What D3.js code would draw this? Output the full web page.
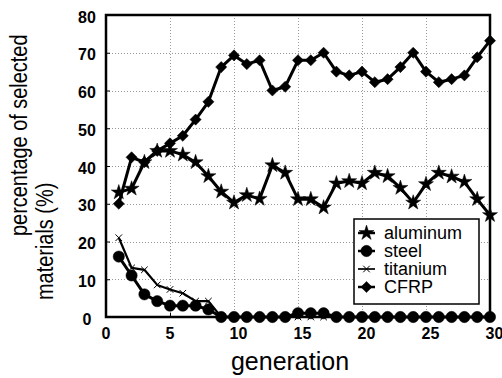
<!DOCTYPE html>
<html>
<head>
    <title>Selected materials per generation</title>
    <script src="https://d3js.org/d3.v7.min.js"></script>
    <style>
        body { margin: 0; background: #fff; }
        .grid line { stroke: #999; stroke-dasharray: 1,2; shape-rendering: crispEdges; }
        .axis text { font-family: "Liberation Sans", Arial, sans-serif; font-size: 16px; font-weight: bold; fill: #000; }
        .axis-title { font-family: "Liberation Sans", Arial, sans-serif; fill: #000; }
        .legend text { font-family: "Liberation Sans", Arial, sans-serif; font-size: 18px; fill: #000; }
    </style>
</head>
<body>
<div class="chart-container"></div>
<script>
    // generation numbers 1..30
    const generations = [1,2,3,4,5,6,7,8,9,10,11,12,13,14,15,16,17,18,19,20,21,22,23,24,25,26,27,28,29,30];

    // percentages
    const aluminum = [33,34,41,44,44,43,41,37.3,33.2,30.3,32.3,31.3,40.2,38.2,31.2,31.2,29,35.4,36,35.4,38.2,37.3,34.2,30.3,35.2,38.2,37.2,35.8,31.2,27];
    const steel = [16,11,6,4.2,3,3,3,2,0,0,0,0,0,0,1,1,1,0,0,0,0,0,0,0,0,0,0,0,0,0];
    const titanium = [21,13,12.5,8.5,7.3,6.3,4.2,4.2,0,0,0,0,0,0,0,0,0,0,0,0,0,0,0,0,0,0,0,0,0,0];
    const cfrp = [30,42.3,41,44,46,48,52.3,57,66.2,69.3,67,68,60,61,68,68,70,65,64,65,62.2,63,66.2,70,65,62.2,63,64,68.8,73.2];

    const seriesNames = ["aluminum", "steel", "titanium", "CFRP"];
    const xTicks = [0,5,10,15,20,25,30];
    const yTicks = [0,10,20,30,40,50,60,70,80];

    const margin = { top: 15, right: 12, bottom: 61, left: 106 };
    const containerWidth = 502;
    const containerHeight = 378;
    const width = containerWidth - margin.left - margin.right;
    const height = containerHeight - margin.top - margin.bottom;

    const root = d3.select(".chart-container")
        .append("svg")
        .attr("width", containerWidth)
        .attr("height", containerHeight);

    const svg = root.append("g")
        .attr("transform", `translate(${margin.left},${margin.top})`);

    const xScale = d3.scaleLinear().domain([0, 30]).range([0, width]);
    const yScale = d3.scaleLinear().domain([0, 80]).range([height, 0]);

    // dotted grid
    const grid = svg.append("g").attr("class", "grid");
    grid.selectAll(".gx").data(xTicks.slice(1, -1)).enter().append("line")
        .attr("x1", d => Math.round(xScale(d)) + 0.5).attr("x2", d => Math.round(xScale(d)) + 0.5)
        .attr("y1", 0).attr("y2", height);
    grid.selectAll(".gy").data(yTicks.slice(1, -1)).enter().append("line")
        .attr("y1", d => Math.round(yScale(d)) + 0.5).attr("y2", d => Math.round(yScale(d)) + 0.5)
        .attr("x1", 0).attr("x2", width);

    // axes (labels only, frame drawn separately)
    const xAxis = svg.append("g")
        .attr("class", "axis")
        .attr("transform", `translate(0,${height})`)
        .call(d3.axisBottom(xScale).tickValues(xTicks).tickSize(4).tickSizeOuter(0).tickPadding(7));
    xAxis.selectAll("text").attr("text-anchor", "start").attr("dx", -5);

    const yAxis = svg.append("g")
        .attr("class", "axis")
        .call(d3.axisLeft(yScale).tickValues(yTicks).tickSize(4).tickSizeOuter(0).tickPadding(12));
    yAxis.selectAll("text").attr("text-anchor", "middle").attr("x", -19).attr("dy", "0.45em");

    [xAxis, yAxis].forEach(a => {
        a.select(".domain").remove();
        a.selectAll(".tick line").attr("stroke", "#000").attr("stroke-width", 1);
    });
    xAxis.selectAll(".tick line").attr("y2", -4);
    yAxis.selectAll(".tick line").attr("x2", 4);

    // series
    const series = [
        { name: seriesNames[0], values: aluminum, symbol: d3.symbolStar, size: 70, lw: 3, fill: true },
        { name: seriesNames[1], values: steel, symbol: d3.symbolCircle, size: 100, lw: 3, fill: true },
        { name: seriesNames[2], values: titanium, symbol: d3.symbolTimes, size: 30, lw: 2.2, fill: false },
        { name: seriesNames[3], values: cfrp, symbol: d3.symbolSquare, size: 62, lw: 3, fill: true, rotate: 45 }
    ];

    const line = d3.line()
        .x((d, i) => xScale(generations[i]))
        .y(d => yScale(d));

    function drawMarker(sel, s) {
        sel.attr("d", d3.symbol().type(s.symbol).size(s.size))
            .attr("fill", s.fill ? "#000" : "none")
            .attr("stroke", "#000")
            .attr("stroke-width", s.fill ? 0.5 : 1);
    }

    series.forEach(s => {
        svg.append("path")
            .datum(s.values)
            .attr("fill", "none")
            .attr("stroke", "#000")
            .attr("stroke-width", s.lw)
            .attr("stroke-linejoin", "round")
            .attr("d", line);

        svg.selectAll(null)
            .data(s.values)
            .enter()
            .append("path")
            .attr("transform", (d, i) => `translate(${xScale(generations[i])},${yScale(d)})` + (s.rotate ? ` rotate(${s.rotate})` : ""))
            .call(drawMarker, s);
    });

    // plot frame
    svg.append("rect")
        .attr("x", 0).attr("y", 0)
        .attr("width", width).attr("height", height)
        .attr("fill", "none")
        .attr("stroke", "#000")
        .attr("stroke-width", 2.5);

    // legend
    const legend = svg.append("g")
        .attr("class", "legend")
        .attr("transform", `translate(${248},${204})`);
    legend.append("rect")
        .attr("width", 125).attr("height", 85)
        .attr("fill", "#fff").attr("stroke", "#000").attr("stroke-width", 1.5);
    series.forEach((s, i) => {
        const g = legend.append("g").attr("transform", `translate(0,${14 + i * 18})`);
        g.append("line").attr("x1", 4).attr("x2", 21).attr("stroke", "#000").attr("stroke-width", s.lw - 0.5);
        g.append("path")
            .attr("transform", `translate(12.5,0)` + (s.rotate ? ` rotate(${s.rotate})` : ""))
            .call(drawMarker, s);
        g.append("text").attr("x", 30).attr("dy", "0.35em").text(s.name);
    });

    // axis titles
    root.append("text")
        .attr("class", "axis-title")
        .attr("x", 290)
        .attr("y", 370)
        .attr("text-anchor", "middle")
        .style("font-size", "25px")
        .text("generation");

    // y title: two lines, glyphs a bit squeezed along the text like the scan
    const yTitleLines = [
        { text: "percentage of selected", x: 27, y: 236 },
        { text: "materials (%)", x: 53, y: 300 }
    ];
    root.selectAll(".ytitle")
        .data(yTitleLines)
        .enter()
        .append("text")
        .attr("class", "axis-title ytitle")
        .attr("transform", d => `translate(${d.x},${d.y}) rotate(-90) scale(0.83,1)`)
        .attr("text-anchor", "start")
        .style("font-size", "24px")
        .text(d => d.text);
</script>
</body>
</html>
